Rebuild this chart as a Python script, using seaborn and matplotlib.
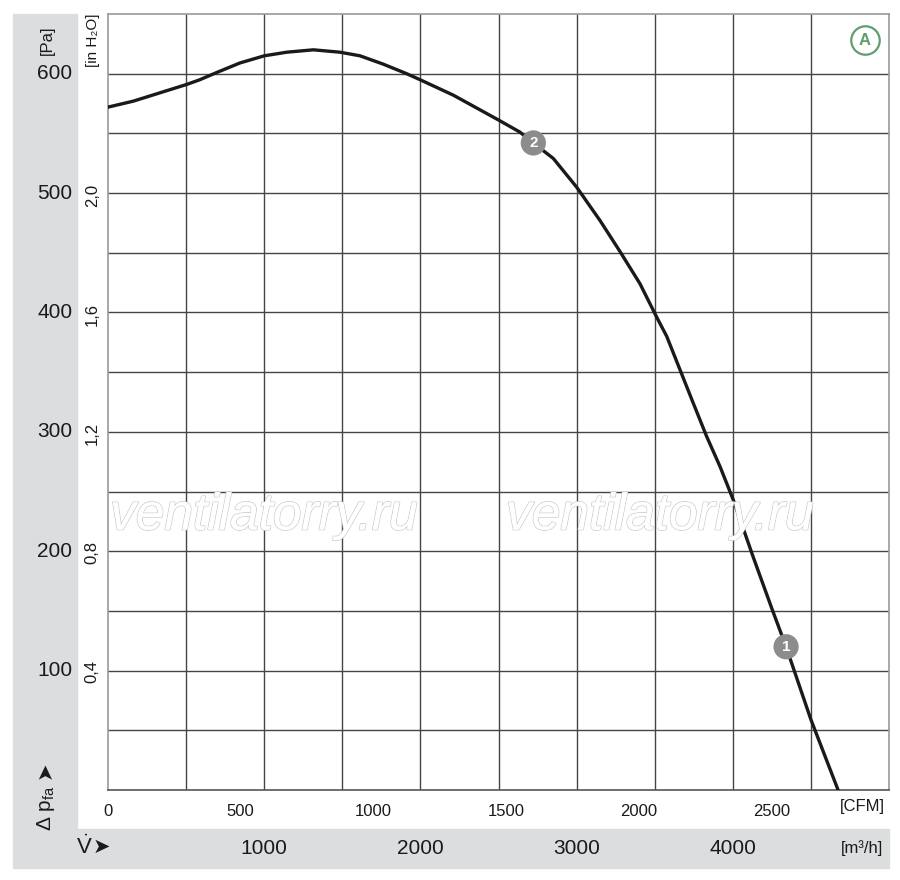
import matplotlib
matplotlib.use("Agg")
import matplotlib.pyplot as plt
import matplotlib.patheffects as pe
from matplotlib.patches import Rectangle
from matplotlib.transforms import blended_transform_factory
import seaborn as sns
import pandas as pd

# ---- data (flow in m3/h, pressure in Pa) ----
flow_m3h = [0, 162, 333, 504, 589, 696, 845, 1001, 1144, 1315, 1485, 1613,
            1762, 1912, 1997, 2211, 2503, 2638, 2723, 2851, 3000, 3150, 3278,
            3406, 3513, 3577, 3662, 3747, 3833, 3918, 4003, 4131, 4250, 4341,
            4500, 4674]
pressure_pa = [572, 577, 584, 591, 595, 601, 609, 615, 618, 620, 618, 615,
               608, 600, 595, 582, 561, 551, 542, 529, 505, 477, 451,
               424, 396, 380, 352, 324, 296, 271, 243, 195, 152, 120,
               59, 0]
marker_flow = [4341, 2723]
marker_pa = [120, 542]
marker_labels = ["1", "2"]

cfm_ticks = [0, 500, 1000, 1500, 2000, 2500]
m3h_ticks = [1000, 2000, 3000, 4000]
pa_ticks = [100, 200, 300, 400, 500, 600]
inh2o_ticks = [0.4, 0.8, 1.2, 1.6, 2.0]
inh2o_labels = ["0,4", "0,8", "1,2", "1,6", "2,0"]
CFM_TO_M3H = 1.699011
INH2O_TO_PA = 249.089

sns.set_style("white")
FONT = ["Liberation Sans", "DejaVu Sans"]
plt.rcParams["font.family"] = FONT
plt.rcParams["mathtext.fontset"] = "custom"
plt.rcParams["mathtext.rm"] = "Liberation Sans"
plt.rcParams["mathtext.it"] = "Liberation Sans:italic"

W, H = 900, 880
fig = plt.figure(figsize=(9, 8.8), dpi=100)

def fx(px):
    return px / W

def fy(py):
    return 1 - py / H

band = "#dcdddf"
fig.patches.append(Rectangle((fx(13), fy(868)), fx(889) - fx(13), (868 - 829) / H,
                             transform=fig.transFigure, color=band, zorder=-1))
fig.patches.append(Rectangle((fx(13), fy(829)), fx(77) - fx(13), (829 - 14) / H,
                             transform=fig.transFigure, color=band, zorder=-1))

ax = fig.add_axes([fx(108), fy(790), (889 - 108) / W, (790 - 14) / H])
df = pd.DataFrame({"flow": flow_m3h, "pa": pressure_pa})
sns.lineplot(data=df, x="flow", y="pa", ax=ax, color="#1a1a1a", lw=2.4,
             sort=False, zorder=5)

ax.set_xlim(0, 5000)
ax.set_ylim(0, 650)
ax.set_xlabel("")
ax.set_ylabel("")

# grid
for v in range(500, 5000, 500):
    ax.axvline(v, color="#454545", lw=1.0, zorder=1)
for h in range(50, 650, 50):
    ax.axhline(h, color="#454545", lw=1.0, zorder=1)

for s in ax.spines.values():
    s.set_color("#9a9a9a")
    s.set_linewidth(1.2)
ax.spines["bottom"].set_color("#555555")

# CFM ticks on bottom
ax.set_xticks([c * CFM_TO_M3H for c in cfm_ticks])
ax.set_xticklabels([str(c) for c in cfm_ticks])
ax.tick_params(axis="x", direction="out", length=7, width=1, color="#999999",
               labelsize=12, pad=3, labelcolor="#1a1a1a")
# in H2O ticks on left
ax.set_yticks([t * INH2O_TO_PA for t in inh2o_ticks])
ax.set_yticklabels(inh2o_labels, rotation=90, va="center")
ax.tick_params(axis="y", direction="out", length=4, width=1, color="#777777",
               labelsize=12, pad=2, labelcolor="#1a1a1a")

# Pa labels in left band
tr_y = blended_transform_factory(fig.transFigure, ax.transData)
for p in pa_ticks:
    fig.text(fx(55), p, str(p), transform=tr_y, ha="center", va="center",
             fontsize=15, color="#1a1a1a")

# m3/h labels in bottom band
tr_x = blended_transform_factory(ax.transData, fig.transFigure)
for m in m3h_ticks:
    fig.text(m, fy(848), str(m), transform=tr_x, ha="center", va="center",
             fontsize=15, color="#1a1a1a")

fig.text(fx(862), fy(806), "[CFM]", ha="center", va="center", fontsize=12,
         color="#1a1a1a")
fig.text(fx(862), fy(848), "[m³/h]", ha="center", va="center", fontsize=12,
         color="#1a1a1a", family=FONT)
fig.text(fx(47), fy(40), "[Pa]", rotation=90, ha="center", va="center",
         fontsize=12, color="#1a1a1a")
fig.text(fx(93), fy(40), "[in H₂O]", rotation=90, ha="center", va="center",
         fontsize=11, color="#1a1a1a", family=FONT)
fig.text(fx(46), fy(808), r"$\Delta$ p$_{\mathrm{fa}}$", rotation=90,
         ha="center", va="center", fontsize=15, color="#1a1a1a")
fig.text(fx(45), fy(770), "➤", rotation=90, ha="center", va="center",
         fontsize=15, color="#1a1a1a", family=["DejaVu Sans"])
fig.text(fx(84), fy(847), r"$\dot{\mathrm{V}}$", ha="center", va="center",
         fontsize=16, color="#1a1a1a")
fig.text(fx(101), fy(847), "➤", ha="center", va="center",
         fontsize=15, color="#1a1a1a", family=["DejaVu Sans"])

# watermark
for cx in (264, 660):
    fig.text(fx(cx), fy(516), "ventilatorry.ru", ha="center", va="center",
             fontsize=37, style="italic", color="white", zorder=3,
             path_effects=[pe.withStroke(linewidth=1.2, foreground="#cccccc"),
                           pe.Normal()])

# operating point markers
ax.scatter(marker_flow, marker_pa, s=330, color="#8c8c8c", zorder=6,
           edgecolors="none")
for q, p, lab in zip(marker_flow, marker_pa, marker_labels):
    ax.text(q, p, lab, ha="center", va="center", color="white",
            fontsize=11, fontweight="bold", zorder=7)

# "A" badge
ax.scatter([0.969], [0.966], transform=ax.transAxes, s=420,
           facecolors="white", edgecolors="#5f9e6e", linewidths=1.6,
           zorder=6, clip_on=False)
ax.text(0.969, 0.966, "A", transform=ax.transAxes, ha="center", va="center",
        color="#5f9e6e", fontsize=12, fontweight="bold", zorder=7)

fig.savefig("out.png", dpi=100, facecolor="white")
